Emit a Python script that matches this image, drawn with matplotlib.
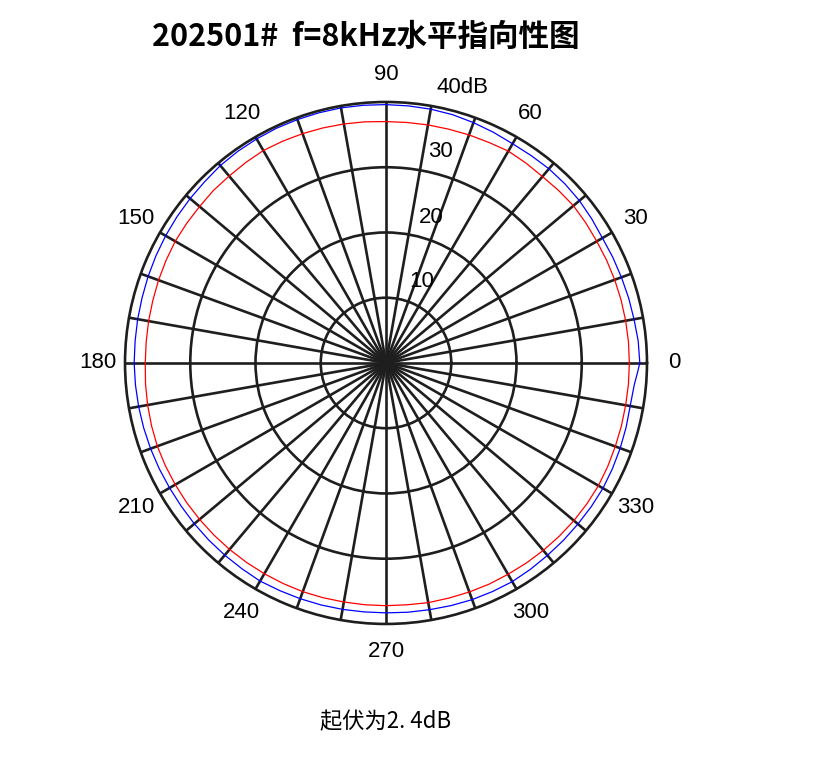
import matplotlib
matplotlib.use('Agg')
import matplotlib.pyplot as plt
import numpy as np

# measured curves (dB), angles in degrees
blue_deg = list(range(0, 360, 5)) + [358, 360]
blue_db = [38.9, 38.8, 38.6, 38.5, 38.4, 38.35, 38.3, 38.5, 38.7, 38.8,
           38.85, 38.8, 38.8, 39.0, 39.2, 39.4, 39.5, 39.55, 39.6, 39.65,
           39.7, 39.7, 39.7, 39.7, 39.65, 39.6, 39.5, 39.3, 39.2, 39.1,
           39.0, 38.9, 38.8, 38.7, 38.65, 38.6, 38.6, 38.55, 38.5, 38.45,
           38.4, 38.35, 38.3, 38.3, 38.35, 38.4, 38.45, 38.5, 38.6, 38.5,
           38.45, 38.4, 38.35, 38.3, 38.3, 38.35, 38.4, 38.5, 38.6, 38.65,
           38.7, 38.6, 38.5, 38.45, 38.4, 38.4, 38.4, 38.3, 38.2, 38.1,
           38.0, 38.2, 38.6, 38.9]

red_deg = list(range(0, 365, 5))
red_db = [37.3, 37.3, 37.3, 37.3, 37.3, 37.3, 37.3, 37.4, 37.5, 37.4,
          37.3, 37.4, 37.5, 37.3, 37.2, 37.1, 37.05, 37.0, 37.0, 37.1,
          37.2, 37.3, 37.4, 37.5, 37.6, 37.5, 37.4, 37.4, 37.3, 37.3,
          37.3, 37.2, 37.1, 37.0, 36.95, 36.9, 36.9, 37.0, 37.1, 37.2,
          37.3, 37.3, 37.3, 37.3, 37.3, 37.3, 37.3, 37.3, 37.3, 37.3,
          37.3, 37.25, 37.2, 37.2, 37.2, 37.2, 37.3, 37.3, 37.35, 37.4,
          37.4, 37.45, 37.5, 37.55, 37.6, 37.6, 37.6, 37.5, 37.4, 37.35,
          37.3, 37.3, 37.3]

angle_labels = [0, 30, 60, 90, 120, 150, 180, 210, 240, 270, 300, 330]
ring_values = [10, 20, 30]
ring_labels = ['10', '20', '30', '40dB']
ring_label_pos = [(66, 13.6), (72.9, 23.4), (75.6, 33.4), (74.4, 43.8)]

title = '202501#  f=8kHz水平指向性图'
note = '起伏为2. 4dB'

grid_c = '#1e1e1e'

fig = plt.figure(figsize=(8.31, 7.64), dpi=100)
ax = fig.add_axes([0.1504, 0.1833, 0.6282, 0.6832], projection='polar')

ax.plot(np.deg2rad(red_deg), red_db, color='#ff0000', linewidth=0.9)
ax.plot(np.deg2rad(blue_deg), blue_db, color='#0000ff', linewidth=0.9)

ax.set_ylim(0, 40)
ax.set_yticks(ring_values)
ax.set_yticklabels([])
ax.set_xticks(np.deg2rad(np.arange(0, 360, 10)))
ax.set_xticklabels([])
ax.tick_params(length=0)
ax.grid(True, color=grid_c, linewidth=1.9, linestyle='-')
ax.spines['polar'].set_color(grid_c)
ax.spines['polar'].set_linewidth(1.9)

for a in angle_labels:
    ax.text(np.deg2rad(a), 44.2, str(a), ha='center', va='center',
            fontsize=16, family='Liberation Sans', clip_on=False)

for lab, (a, r) in zip(ring_labels, ring_label_pos):
    ax.text(np.deg2rad(a), r, lab, ha='center', va='center',
            fontsize=16, family='Liberation Sans', clip_on=False)

fig.text(366 / 831, 1 - 37 / 764, title, ha='center', va='center',
         fontsize=22, fontweight='bold', family=['Noto Sans CJK SC', 'DejaVu Sans'])
fig.text(386 / 831, 1 - 722 / 764, note, ha='center', va='center',
         fontsize=16, family=['Noto Sans CJK SC', 'DejaVu Sans'])

fig.savefig('out.png', dpi=100, facecolor='white')
